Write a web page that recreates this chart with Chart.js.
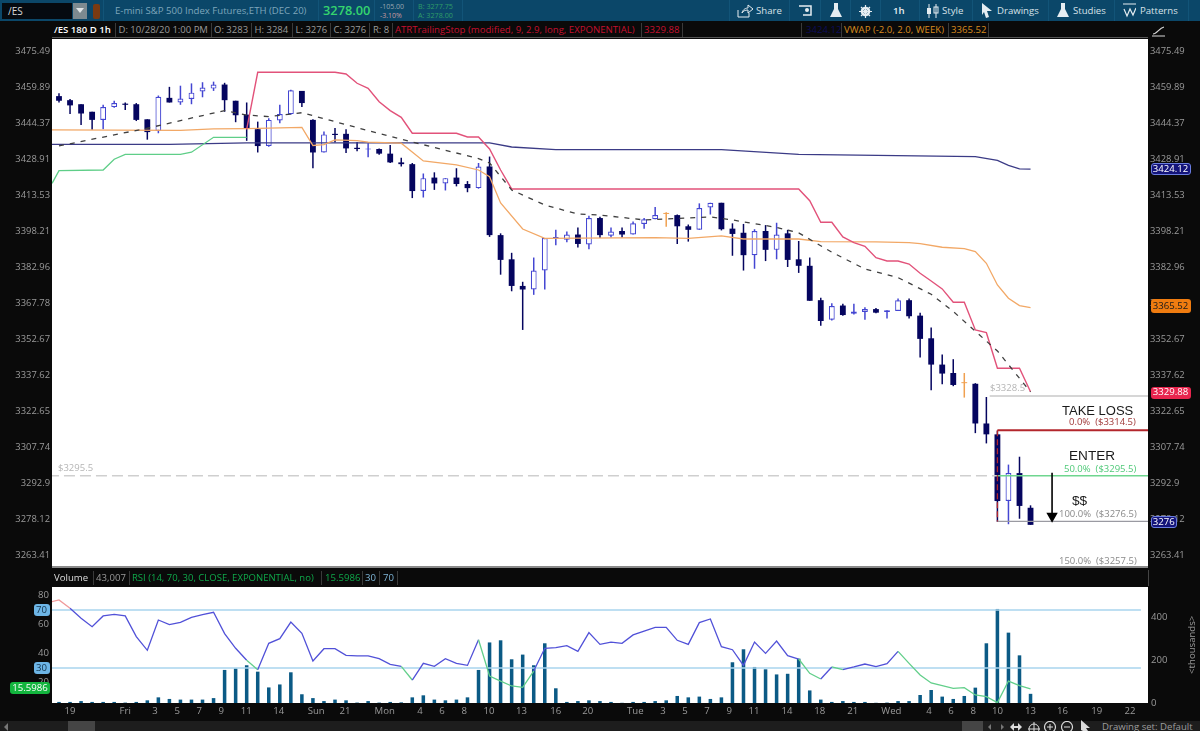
<!DOCTYPE html>
<html>
<head>
<meta charset="utf-8">
<title>/ES 180 D 1h</title>
<script src="https://cdn.jsdelivr.net/npm/chart.js@4"></script>
<style>
    html, body { margin: 0; padding: 0; background: #0a0a0a; width: 1200px; height: 731px; overflow: hidden; }
    canvas { position: absolute; left: 0; }
    #chart-price { top: 39px; }
    #chart-rsi { top: 587px; }
    .t { position: absolute; white-space: nowrap; line-height: 1; font-family: "Open Sans", sans-serif; }
    .box { position: absolute; }
    svg { position: absolute; }
</style>
</head>
<body>
<div class="box" style="left:0;top:0;width:1200px;height:21px;background:#0b4769"></div>
<div class="box" style="left:52px;top:37px;width:1096px;height:1px;background:#555"></div>
<div class="box" style="left:52px;top:566px;width:1096px;height:2px;background:#8a8a8a"></div>
<div class="box" style="left:52px;top:570px;width:1096px;height:16px;background:#0a0a0a;border-right:1px solid #444"></div>
<div class="box" style="left:0;top:721px;width:1200px;height:10px;background:#1d1d1d"></div>
<canvas id="chart-price" width="1200" height="527"></canvas>
<canvas id="chart-rsi" width="1200" height="131"></canvas>
<div id="overlay"></div>

<script>
// ======================================================
// /ES 1H
// ======================================================

const opens = [3456.25,3454.5,3452.75,3449.5,3446,3451.5,3453,3452.75,3446.25,3441.25,
    3455.5,3453.5,3455,3458.25,3459.5,3461.25,3454.25,3448.25,3442,3434.75,
    3445.75,3448.5,3458.5,3446,3432,3440,3440,3434,3433.25,3433.5,
    3431.5,3427.75,3427,3415.5,3421.25,3418.75,3421.25,3418.5,3416.75,3426,
    3396.75,3386.5,3375.25,3373.75,3381.75,3395.5,3394.75,3397,3392.75,3404,
    3396.5,3398.5,3397,3401.5,3403.5,3405.75,3405.25,3400.5,3399,3408.5,
    3410.5,3399.5,3397.75,3388.25,3398.5,3390.5,3397.5,3386.5,3383.75,3369.25,
    3361,3367,3363.5,3364.25,3365.5,3364.25,3364.75,3369.25,3362.75,3353.25,
    3342.25,3338.75,3334.5,3334.25,3317.75,3313.25,3285.75,3297.25,3283];
const highs = [3457.5,3455,3452.75,3449.5,3452.5,3454.25,3453.5,3453.25,3446.25,3456.5,
    3460.25,3460.75,3461.75,3462.25,3462.5,3462,3454.25,3453.5,3445.25,3446.75,
    3452.5,3459,3458.5,3446.25,3441,3442.5,3442,3436.5,3436,3433.75,
    3435.25,3429.75,3427.5,3423,3423.5,3421,3425.25,3419.75,3427.5,3430.25,
    3397.5,3389.25,3377,3387.25,3395.5,3399,3398.25,3400,3405,3404.5,
    3400,3400,3402.5,3404,3408.75,3406.5,3405.5,3401.25,3410.25,3410.5,
    3410.5,3401.75,3401.5,3399.25,3401,3402,3399,3394.25,3387.25,3370.25,
    3368,3367.75,3367.75,3366.25,3366,3365,3370,3370,3364,3357.75,
    3346.5,3344.5,3338.75,3334.5,3328.75,3314.75,3300.75,3304,3284];
const lows = [3453.5,3448.5,3443.75,3441.75,3442,3451.25,3450.25,3445.5,3437.5,3440.25,
    3453.5,3452.5,3452.75,3455.75,3458.5,3449.5,3445,3437,3432,3434.5,
    3444.5,3448.25,3451.5,3425.25,3432,3436.25,3431.75,3432.5,3430,3431,
    3427.5,3426,3412.5,3412.75,3416,3415.75,3417.5,3415,3416.5,3396,
    3380,3373,3356.75,3371.5,3373.75,3392.5,3393.75,3391.5,3390.75,3395.5,
    3395.75,3395.75,3397,3399.5,3403.5,3400.25,3393,3394,3399,3405.5,
    3398.75,3388,3381.75,3382.5,3385.75,3386.5,3383.25,3380.75,3369,3358.5,
    3360.75,3362.75,3363.25,3361,3363.75,3361.5,3364.75,3361.5,3345.25,3331.5,
    3334,3333.25,3328.5,3313.75,3309.5,3277.25,3276.25,3278.5,3276];
const closes = [3454.25,3452.25,3448.75,3446,3451.5,3453.25,3452.5,3446,3440.75,3456,
    3453.5,3455.25,3457.75,3460,3461.25,3454.5,3448,3442.5,3434.75,3446,
    3448.5,3458.75,3453.25,3432,3439.75,3439.5,3433.75,3433.5,3433.5,3431.5,
    3427.75,3427,3415.5,3421,3418.75,3421,3418.5,3416.75,3426,3396.75,
    3386.25,3375.25,3373.75,3381.75,3395.5,3395.75,3397,3393,3404,3396.75,
    3398.25,3397,3401.75,3403.5,3405.25,3405.75,3400.5,3399,3408.25,3410.5,
    3399.25,3397.25,3388.25,3398.5,3390.5,3397,3386.25,3383.75,3369,3360.5,
    3366.75,3363,3364.5,3365.5,3364,3365,3369.25,3362.5,3353,3342.25,
    3338.5,3333.75,3334.5,3317.75,3313.25,3285.75,3297.25,3283.75,3276];

const volume = [5,5,9,5,5,5,2,5,12.5,26.5,19,16,16,16,23,155,162,177,147,73,
    87,144,41,23,9,16,12.5,2,9,2,5,3,26.5,36,16,12.5,16,26.5,155,284,
    294,205,227,177,280,69,5,9,12.5,9,5,1,5,5,9,12.5,33,26.5,30,19,
    26.5,191,252,169,158,134,137,208,59,16,5,9,5,5,1,2,9,9,37.5,61,
    30,19,33,72,280,441,330,223.5,43];

const rsi = [76.9,71.15,64.25,58.5,65.9,67,65.9,51.6,42.2,63.1,59.9,61.5,64.9,66.8,68.4,53.7,43.6,35.3,28.85,47,
    50.2,61.7,53.9,34.8,43.3,43.3,38.7,38.3,38.3,36.4,32.5,31.1,21.7,33.2,31.1,36.4,33.2,31.8,49.5,24.5,
    21,17.6,16.7,27.9,43.6,44,45.4,41.5,54.4,46.3,47.9,47,52.8,55.5,58,58,49.1,46.3,61.3,63.8,
    44.7,42.6,31.8,47.9,40.1,48.6,38.5,36.2,26.3,22.4,30.7,28.85,30.7,32.75,30.9,33,41.5,33.2,25.2,19.65,
    17.8,16,16.4,11.4,10.2,6.1,21,17.8,15.6];
const rsiStart = 75.1;
// trecho que no original já aparece verde antes de cruzar 30
const rsiGreenExtra = [77];

// indicadores: só os vértices de cada linha
const atrIdx = [17,18,25,26,27,28,29,30,31,32,36,37,38,39,40,41,67,68,69,70,71,72,73,74,75,76,77,78,79,80,81,82,83,84,85,87,88];
const atrVal = [3441.96,3466.56,3466.56,3465.8,3461.8,3459.6,3453.85,3450,3447.1,3440.25,3440.25,3438.65,3438.65,3433.5,3424.5,3416.4,3416.4,3411.4,3402.2,3402.2,
    3395.96,3393.55,3392,3387.2,3385.8,3385.8,3384.5,3380.6,3377.35,3374,3368.4,3368.4,3356.75,3355.6,3340.7,3340.7,3330.9];

const vwapIdx = [-1,11,14,17,22,23,24,25,27,28,31,33,36,38,39,40,42,44,54,57,60,62,67,69,74,77,78,80,82,83,84,85,86,87,88];
const vwapVal = [3441.67,3441.5,3442.1,3442.2,3442.8,3435,3435.4,3437.4,3437.1,3436.4,3436,3428.35,3426.65,3424.5,3421.65,3410.4,3399.35,3395.4,3395.65,3395.4,3396.4,3395.1,3395.1,3394,
    3393.85,3393.55,3393.1,3391.6,3391,3389.75,3384.8,3375.66,3370.05,3366.95,3366.1];

const emaIdx = [0,8,11,15,17,19,22,28,32,38,39,41,44,47,49,53,59,61,65,67,70,73,76,79,81,85,88];
const emaVal = [3434.8,3442.4,3445.7,3450,3448.1,3447.4,3449.1,3441.4,3436.5,3429.4,3427.5,3415.96,3409.57,3405.7,3405.3,3403.2,3404.5,3403.2,3400,3397.7,
    3389.5,3382.4,3378.75,3371.75,3364.5,3347.95,3330.84];

const maIdx = [-1,10,17,39,41,45,60,67,83,85,86,87,88];
const maVal = [3435.44,3435.5,3436.1,3436.1,3434.35,3433.2,3433.2,3431.2,3430.2,3428.6,3426.45,3425,3424.9];

const stopIdx = [-0.63,0,4,5,6,11,12,14,17];
const stopVal = [3418.8,3424.2,3424.5,3429.1,3431.2,3431.2,3432.1,3438.5,3438.5];

// níveis de Fibonacci desenhados à mão no gráfico
const levelHigh = 3329.2;
const levelLoss = 3314.95;
const levelEnter = 3296.2;
const levelProfit = 3277.4;
const arrowTop = 3297.4;
const arrowTip = 3279.6;

const priceTicks = [3475.49,3459.89,3444.37,3428.91,3413.53,3398.21,3382.96,3367.78,3352.67,3337.62,3322.65,3307.74,3292.9,3278.12,3263.41];
const rsiTicks = [80,60,40,20];
const volumeTicks = [0,200,400];
const timeTickPos = [1,6,8.7,10.7,12.7,14.7,16.95,19.9,23.3,25.9,29.5,32.7,34.7,36.7,38.95,41.9,45,47.9,52.2,54.7,56.7,58.7,60.7,62.95,65.95,68.9,71.9,75.4,78.8,80.8,82.8,85,88,90.9,94,97];
const timeTickText = ['19','Fri','3','5','7','9','11','14','Sun','21','Mon','4','6','8','10','13','16','20','Tue','3','5','7','9','11','14','18','21','Wed','4','6','8','10','13','16','19','22'];

// ======================================================
// CHARTS
// ======================================================

const FONT = '"Open Sans", sans-serif';
const GREY = '#9a9a9a';
const NAVY = '#05055f';
const HOLLOW = '#4446d2';
const DOJI = '#f0a050';
const X_MIN = -0.634;
const X_MAX = 98.64;

const plotBackground = {
    id: 'plotBackground',
    beforeDraw(chart) {
        const { ctx, chartArea: a } = chart;
        ctx.save();
        ctx.fillStyle = '#ffffff';
        ctx.fillRect(a.left, a.top, a.right - a.left, a.bottom - a.top);
        ctx.restore();
    }
};

function pairs(xs, ys) {
    return xs.map((x, i) => ({ x, y: ys[i] }));
}

function lineSet(data, color, width, order, extra) {
    return Object.assign({
        type: 'line',
        data,
        borderColor: color,
        borderWidth: width,
        pointRadius: 0,
        tension: 0,
        fill: false,
        order
    }, extra || {});
}

function candleColor(i) {
    if (opens[i] === closes[i]) return DOJI;
    return closes[i] < opens[i] ? NAVY : HOLLOW;
}

// largura fixa dos eixos verticais, sem a folga que o Chart.js reserva para os rótulos
function fitYAxis(scale) {
    scale.width = 52;
    scale.paddingTop = 0;
    scale.paddingBottom = 0;
}

function priceAxis(position) {
    return {
        type: 'logarithmic',
        position,
        min: 3259.2,
        max: 3481.0,
        afterBuildTicks(scale) { scale.ticks = priceTicks.map(value => ({ value })); },
        afterFit: fitYAxis,
        ticks: {
            autoSkip: false,
            padding: 2,
            color: GREY,
            font: { family: FONT, size: 9.4 },
            callback: value => String(value)
        },
        grid: { display: false, drawTicks: false },
        border: { display: false }
    };
}

const candleIdx = opens.map((v, i) => i);

new Chart(document.getElementById('chart-price'), {
    data: {
        datasets: [
            {
                type: 'bar',
                data: candleIdx.map(i => ({ x: i, y: [lows[i], highs[i]] })),
                backgroundColor: candleIdx.map(candleColor),
                grouped: false,
                barPercentage: 1,
                maxBarThickness: 1.5,
                order: 20
            },
            {
                type: 'bar',
                data: candleIdx.map(i => ({ x: i, y: [Math.min(opens[i], closes[i]), Math.max(opens[i], closes[i])] })),
                backgroundColor: candleIdx.map(i => closes[i] > opens[i] ? '#ffffff' : candleColor(i)),
                borderColor: candleIdx.map(candleColor),
                borderWidth: candleIdx.map(i => closes[i] > opens[i] ? 1.2 : 0),
                borderSkipped: false,
                minBarLength: 1,
                grouped: false,
                barPercentage: 0.66,
                maxBarThickness: 7,
                order: 19
            },
            lineSet(pairs(maIdx, maVal), '#3b3b86', 1.3, 8),
            lineSet(pairs(vwapIdx, vwapVal), '#f2a866', 1.3, 7),
            lineSet(pairs(stopIdx, stopVal), '#5fce88', 1.3, 6),
            lineSet(pairs(atrIdx, atrVal), '#e2527a', 1.4, 5),
            lineSet(pairs(emaIdx, emaVal), '#3f3f3f', 1.3, 4, { borderDash: [5, 6] }),
            lineSet(pairs([-1, 85], [levelEnter, levelEnter]), '#cfcfcf', 1.5, 3, { borderDash: [11, 5] }),
            lineSet(pairs([85, 99], [levelEnter, levelEnter]), '#6fd68f', 1.5, 3),
            lineSet(pairs([84.3, 99], [levelHigh, levelHigh]), '#c9c9c9', 1.5, 3),
            lineSet(pairs([85, 99], [levelLoss, levelLoss]), '#b3262c', 2, 3),
            lineSet(pairs([85, 99], [levelProfit, levelProfit]), '#9a9aa2', 1.3, 3),
            lineSet(pairs([85, 85], [levelLoss, levelProfit]), '#b3262c', 1.3, 2, { borderDash: [6, 3] }),
            lineSet(pairs([89.95, 89.95], [arrowTop, arrowTip]), '#000000', 1.6, 1, {
                pointRadius: [0, 5],
                pointStyle: 'triangle',
                pointRotation: 180,
                pointBackgroundColor: '#000000',
                pointBorderColor: '#000000'
            })
        ]
    },
    options: {
        responsive: false,
        animation: false,
        layout: { padding: 0, autoPadding: false },
        plugins: { legend: { display: false }, tooltip: { enabled: false } },
        scales: {
            x: { type: 'linear', offset: false, min: X_MIN, max: X_MAX, display: false },
            y: priceAxis('left'),
            y2: priceAxis('right')
        }
    },
    plugins: [plotBackground]
});

new Chart(document.getElementById('chart-rsi'), {
    data: {
        datasets: [
            {
                type: 'bar',
                data: candleIdx.map(i => ({ x: i, y: volume[i] })),
                backgroundColor: '#0b5a85',
                yAxisID: 'vol',
                grouped: false,
                barPercentage: 0.4,
                maxBarThickness: 4.4,
                order: 5
            },
            lineSet(pairs([-1, 98], [70, 70]), '#a9d5ee', 1.3, 4, { yAxisID: 'rsi' }),
            lineSet(pairs([-1, 98], [30, 30]), '#a9d5ee', 1.3, 4, { yAxisID: 'rsi' }),
            lineSet(pairs([-1].concat(candleIdx), [rsiStart].concat(rsi)), '#5151d8', 1.3, 1, {
                yAxisID: 'rsi',
                segment: {
                    borderColor: ctx => {
                        if (ctx.p1.parsed.y > 70) return '#f09a9a';
                        if (ctx.p1.parsed.y < 30 || rsiGreenExtra.includes(ctx.p1.parsed.x)) return '#62cf8a';
                        return undefined;
                    }
                }
            })
        ]
    },
    options: {
        responsive: false,
        animation: false,
        layout: { padding: 0, autoPadding: false },
        plugins: { legend: { display: false }, tooltip: { enabled: false } },
        scales: {
            x: {
                type: 'linear',
                offset: false,
                min: X_MIN,
                max: X_MAX,
                afterBuildTicks(scale) { scale.ticks = timeTickPos.map(value => ({ value })); },
                afterFit(scale) { scale.height = 15; scale.paddingLeft = 0; scale.paddingRight = 0; },
                ticks: {
                    autoSkip: false,
                    maxRotation: 0,
                    padding: 3,
                    color: GREY,
                    font: { family: FONT, size: 9.6 },
                    callback: (value, index) => timeTickText[index]
                },
                grid: { display: false, drawTicks: false },
                border: { display: false }
            },
            rsi: {
                position: 'left',
                min: 5.86,
                max: 85.86,
                afterBuildTicks(scale) { scale.ticks = rsiTicks.map(value => ({ value })); },
                afterFit: fitYAxis,
                ticks: { autoSkip: false, padding: 3, color: GREY, font: { family: FONT, size: 9.6 } },
                grid: { display: false, drawTicks: false },
                border: { display: false }
            },
            vol: {
                position: 'right',
                min: 0,
                max: 544,
                afterBuildTicks(scale) { scale.ticks = volumeTicks.map(value => ({ value })); },
                afterFit: fitYAxis,
                ticks: { autoSkip: false, padding: 3, color: GREY, font: { family: FONT, size: 9.6 } },
                grid: { display: false, drawTicks: false },
                border: { display: false }
            }
        }
    },
    plugins: [plotBackground]
});

// ======================================================
// TEXTOS E BARRAS DA PLATAFORMA (fora do canvas)
// ======================================================

const overlay = document.getElementById('overlay');

function text(str, left, cy, size, color, extra) {
    const el = document.createElement('div');
    el.className = 't';
    el.textContent = str;
    el.style.cssText = `left:${left}px;top:${cy - size / 2 - 0.5}px;font-size:${size}px;color:${color};${extra || ''}`;
    overlay.appendChild(el);
    return el;
}

function rect(left, top, w, h, bg, extra) {
    const el = document.createElement('div');
    el.className = 'box';
    el.style.cssText = `left:${left}px;top:${top}px;width:${w}px;height:${h}px;background:${bg};${extra || ''}`;
    overlay.appendChild(el);
}

function icon(left, top, w, h, inner) {
    overlay.insertAdjacentHTML('beforeend',
        `<svg style="left:${left}px;top:${top}px" width="${w}" height="${h}" viewBox="0 0 ${w} ${h}">${inner}</svg>`);
}

function bubble(str, left, top, w, h, bg, color, border) {
    rect(left, top, w, h, bg, `border-radius:3px;box-sizing:border-box;${border ? 'border:1px solid ' + border : ''}`);
    const el = text(str, left, top + h / 2, 9.6, color);
    el.style.width = w + 'px';
    el.style.textAlign = 'center';
}

// barra azul do topo
rect(2, 3, 70, 16, '#050a10');
text('/ES', 8, 11, 10, '#d8d8d8');
rect(73, 3, 14, 16, '#7d8a90');
icon(76, 8, 8, 6, '<path d="M0 0H8L4 5Z" fill="#dfe4e6"/>');
rect(93, 4, 7, 15, '#7a3a12', 'border-radius:2px');
text('E-mini S&P 500 Index Futures,ETH (DEC 20)', 115, 11, 9.6, '#7ea6bb');
text('3278.00', 323, 11, 12.8, '#35d46e', 'font-weight:600');
text('-105.00', 380, 7, 7, '#9aa6b0');
text('-3.10%', 380, 16, 7, '#c99aa0');
text('B: 3277.75', 418, 7, 7.2, '#2f9d68');
text('A: 3278.00', 418, 16, 7.2, '#2f9d68');
[103, 318, 374, 413, 462, 729, 789, 820, 850, 880, 919, 972, 1048, 1114, 1188].forEach(x => rect(x, 0, 1, 21, '#125478'));

icon(737, 4, 17, 14, '<path d="M1 6V13H12V9M5 9C6 5 9 4 11 4V1L16 5L11 9V6C8 6 6 7 5 9Z" fill="none" stroke="#e6edf1" stroke-width="1"/>');
text('Share', 756, 11, 9.6, '#d8e2e8');
icon(798, 5, 14, 12, '<path d="M1 1H13V10H5" fill="none" stroke="#e6edf1" stroke-width="1.5"/><circle cx="9" cy="5" r="2" fill="#e6edf1"/>');
icon(829, 2, 14, 17, '<path d="M5 1H9V7L13 15H1L5 7Z" fill="#e6edf1"/>');
icon(859, 5, 13, 13, '<circle cx="6.5" cy="6.5" r="3.6" fill="none" stroke="#e6edf1" stroke-width="2.4"/><path d="M6.5 0V13M0 6.5H13M2 2L11 11M11 2L2 11" stroke="#e6edf1" stroke-width="1.2"/>');
text('1h', 893, 11, 9.6, '#e6edf1', 'font-weight:600');
icon(926, 4, 13, 14, '<path d="M3 0V14M10 0V14" stroke="#e6edf1"/><rect x="1" y="4" width="4" height="6" fill="#e6edf1"/><rect x="8" y="3" width="4" height="6" fill="none" stroke="#e6edf1"/>');
text('Style', 942, 11, 9.6, '#d8e2e8');
icon(981, 3, 12, 15, '<path d="M1 0L11 8H6L8 14L5 15L3 9L1 12Z" fill="#e6edf1"/>');
text('Drawings', 997, 11, 9.6, '#d8e2e8');
icon(1056, 2, 14, 17, '<path d="M5 1H9V7L13 15H1L5 7Z" fill="#e6edf1"/>');
text('Studies', 1073, 11, 9.6, '#d8e2e8');
icon(1123, 3, 13, 15, '<path d="M0 1H13M1 6L4 13L7 6L10 12L13 5" fill="none" stroke="#e6edf1" stroke-width="1.2"/>');
text('Patterns', 1140, 11, 9.6, '#d8e2e8');

// faixa da legenda do preço
text('/ES 180 D 1h', 54, 30, 9.6, '#ffffff', 'font-weight:600');
text('D: 10/28/20 1:00 PM', 118.5, 30, 9.5, GREY);
text('O: 3283', 214, 30, 9.5, GREY);
text('H: 3284', 254.5, 30, 9.5, GREY);
text('L: 3276', 295.5, 30, 9.5, GREY);
text('C: 3276', 333.5, 30, 9.5, GREY);
text('R: 8', 373, 30, 9.5, GREY);
text('ATRTrailingStop (modified, 9, 2.9, long, EXPONENTIAL)', 395, 30, 9.6, '#c5102f');
text('3329.88', 644, 30, 9.6, '#c5102f');
text('3424.12', 806, 30, 9.6, '#0c0c5a');
text('VWAP (-2.0, 2.0, WEEK)', 844, 30, 9.6, '#d98a1f');
text('3365.52', 951, 30, 9.6, '#d98a1f');
[115, 211, 251, 292, 330, 369, 392, 641, 682, 801, 841, 948, 988].forEach(x => rect(x, 23, 1, 14, '#3a3a3a'));
icon(1151, 25, 15, 12, '<path d="M1 11H14M2 9C6 9 8 3 13 2" fill="none" stroke="#d8d8d8" stroke-width="1.2"/>');

// anotações do desenho de Fibonacci
text('$3295.5', 58, 468, 9.5, '#b5b5b5');
text('$3328.5', 990, 388, 9.5, '#b5b5b5');
text('TAKE LOSS', 1062, 411, 13, '#1a1a1a', 'font-family:Liberation Sans,sans-serif');
text('0.0%  ($3314.5)', 1069, 422, 9.5, '#a03a3a', 'white-space:pre');
text('ENTER', 1069, 456, 13.6, '#1a1a1a', 'font-family:Liberation Sans,sans-serif');
text('50.0%  ($3295.5)', 1064, 469, 9.5, '#4fc978', 'white-space:pre');
text('$$', 1072, 501, 13.6, '#1a1a1a', 'font-family:Liberation Sans,sans-serif');
text('100.0%  ($3276.5)', 1059, 514, 9.5, '#8a8a8a', 'white-space:pre');
text('150.0%  ($3257.5)', 1059, 561, 9.5, '#8a8a8a', 'white-space:pre');

// valores atuais na escala da direita
bubble('3424.12', 1150.5, 163, 40, 12, '#14147a', '#ffffff', '#6a7de0');
bubble('3365.52', 1150.5, 299, 40, 14, '#f07c10', '#1a1a1a');
bubble('3329.88', 1150.5, 386.5, 40, 12, '#e8254e', '#ffffff');
bubble('3276', 1150.5, 516, 26.5, 12, '#14147a', '#ffffff', '#6a7de0');

// painel inferior
text('Volume', 54, 578, 9.6, '#dddddd');
text('43,007', 96, 578, 9.6, GREY);
text('RSI (14, 70, 30, CLOSE, EXPONENTIAL, no)', 132, 578, 9.5, '#0fa84a');
text('15.5986', 325, 578, 9.6, '#0fa84a');
text('30', 365, 578, 9.6, '#7fb6d8');
text('70', 383, 578, 9.6, '#7fb6d8');
[93, 129, 321, 362, 379, 397].forEach(x => rect(x, 571, 1, 14, '#3a3a3a'));
bubble('70', 33.5, 604, 16, 12, '#6db5e6', '#12324a');
bubble('30', 33.5, 662, 16, 12, '#6db5e6', '#12324a');
bubble('15.5986', 10, 682, 40, 12, '#13b53e', '#ffffff');
text('<thousands>', 1162, 645, 9.6, GREY, 'transform:rotate(-90deg);width:60px;text-align:center');

// rodapé
rect(68, 721, 27, 10, '#454545');
rect(962, 721, 21, 10, '#454545');
icon(4, 723, 5, 8, '<path d="M4 0L0 4L4 8Z" fill="#777"/>');
icon(988, 724, 4, 6, '<path d="M3 0L0 3L3 6Z" fill="#777"/>');
icon(1001, 724, 4, 6, '<path d="M0 0L3 3L0 6Z" fill="#777"/>');
icon(1010, 723, 12, 8, '<path d="M4 0V8L0 4ZM8 0V8L12 4Z" fill="#dcdcdc"/><rect x="4" y="3" width="4" height="2" fill="#dcdcdc"/>');
icon(1028, 722, 12, 9, '<circle cx="6" cy="7" r="5" fill="none" stroke="#dcdcdc"/><path d="M6 0V9M0 7H12" stroke="#dcdcdc"/>');
icon(1043, 721, 14, 10, '<circle cx="7" cy="6" r="5.5" fill="none" stroke="#dcdcdc" stroke-width="1.2"/><path d="M4 6H10M7 3V9" stroke="#dcdcdc"/>');
icon(1060, 721, 14, 10, '<circle cx="7" cy="6" r="5.5" fill="none" stroke="#dcdcdc" stroke-width="1.2"/><path d="M4 6H10" stroke="#dcdcdc"/>');
icon(1080, 720, 11, 11, '<path d="M1 0L10 8H6L8 11H3L1 10Z" fill="#dcdcdc"/>');
text('Drawing set: Default', 1102, 727, 9.6, '#9c9c9c');
</script>
</body>
</html>
